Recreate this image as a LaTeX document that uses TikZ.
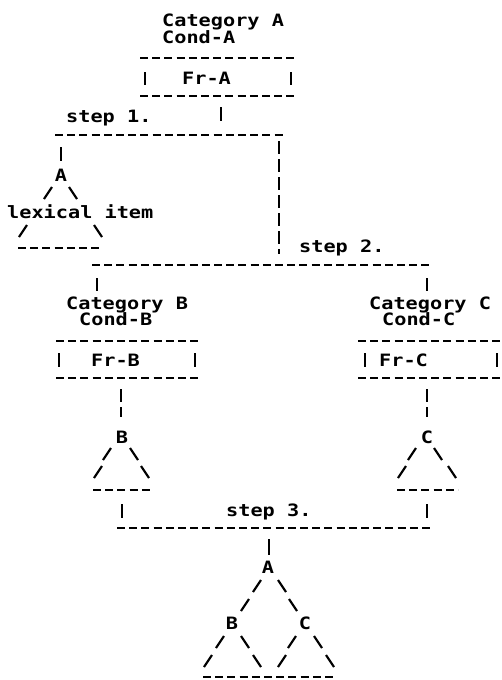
\documentclass[tikz,border=0pt]{standalone}
\usepackage{fontspec}
\newfontfamily\dm[FakeStretch=1.19]{DejaVu Sans Mono}
\tikzset{
  txt/.style={font=\dm\bfseries\fontsize{17}{17}\selectfont, inner sep=0pt, anchor=base west},
  ltr/.style={font=\dm\bfseries\fontsize{17}{17}\selectfont, inner sep=0pt, anchor=base},
  dl/.style={line width=2.4pt, dash pattern=on 8pt off 4.2pt},
  vdl/.style={line width=2pt, dash pattern=on 13pt off 5pt},
  barline/.style={line width=2pt},
  sl/.style={line width=2.2pt},
}
\newcommand{\myfs}[3]{\draw[sl] (#1-4,#2+6) -- (#1+4,#2-6) coordinate (#3);}
\newcommand{\mybs}[3]{\draw[sl] (#1-4,#2-6) -- (#1+4,#2+6) coordinate (#3);}
\begin{document}
\begin{tikzpicture}[x=1pt,y=-1pt]
\useasboundingbox[fill=white] (0,0) rectangle (502,680);

% ---------- block A ----------
\node[txt] (catA) at (162,27) {Category A};
\node[txt] (condA) at (162,43) {Cond-A};
\coordinate (aT1) at (140,58); \coordinate (aT2) at (295,58);
\draw[dl] (aT1) -- (aT2);
\node[txt] (frA) at (182,84) {Fr-A};
\coordinate (aL1) at (145,72); \coordinate (aL2) at (145,85);
\coordinate (aR1) at (291,72); \coordinate (aR2) at (291,85);
\draw[barline] (aL1) -- (aL2);
\draw[barline] (aR1) -- (aR2);
\coordinate (aB1) at (140,96); \coordinate (aB2) at (295,96);
\draw[dl] (aB1) -- (aB2);

% ---------- step 1 ----------
\node[txt] (s1) at (66,122) {step 1.};
\coordinate (s1b1) at (221,107); \coordinate (s1b2) at (221,121);
\draw[barline] (s1b1) -- (s1b2);
\coordinate (l1a) at (55,135); \coordinate (l1b) at (284,135);
\draw[dl] (l1a) -- (l1b);
\coordinate (lb1) at (61,147); \coordinate (lb2) at (61,161);
\draw[barline] (lb1) -- (lb2);

% lexical tree
\node[ltr] (lexA) at (61,181) {A};
\myfs{48}{193}{f1}
\mybs{73}{193}{b1}
\node[txt] (lex) at (7,218) {lexical item};
\myfs{23}{231}{f2}
\mybs{98}{231}{b2}
\coordinate (lbase1) at (18,248); \coordinate (lbase2) at (102,248);
\draw[dl] (lbase1) -- (lbase2);

% right vertical to step 2
\coordinate (rv1) at (279,141); \coordinate (rv2) at (279,254);
\draw[vdl] (rv1) -- (rv2);
\node[txt] (s2) at (299,252) {step 2.};
\coordinate (l2a) at (92,265); \coordinate (l2b) at (431,265);
\draw[dl] (l2a) -- (l2b);
\coordinate (bb1) at (97,278); \coordinate (bb2) at (97,291);
\coordinate (cb1) at (427,278); \coordinate (cb2) at (427,291);
\draw[barline] (bb1) -- (bb2);
\draw[barline] (cb1) -- (cb2);

% ---------- block B ----------
\node[txt] (catB) at (66,309) {Category B};
\node[txt] (condB) at (79,325) {Cond-B};
\coordinate (bT1) at (56,341); \coordinate (bT2) at (198,341);
\draw[dl] (bT1) -- (bT2);
\node[txt] (frB) at (91,366) {Fr-B};
\coordinate (bL1) at (59,353); \coordinate (bL2) at (59,367);
\coordinate (bR1) at (195,353); \coordinate (bR2) at (195,367);
\draw[barline] (bL1) -- (bL2);
\draw[barline] (bR1) -- (bR2);
\coordinate (bB1) at (56,378); \coordinate (bB2) at (198,378);
\draw[dl] (bB1) -- (bB2);

% ---------- block C ----------
\node[txt] (catC) at (369,309) {Category C};
\node[txt] (condC) at (382,325) {Cond-C};
\coordinate (cT1) at (358,341); \coordinate (cT2) at (502,341);
\draw[dl] (cT1) -- (cT2);
\node[txt] (frC) at (379,366) {Fr-C};
\coordinate (cL1) at (365,353); \coordinate (cL2) at (365,367);
\coordinate (cR1) at (497,353); \coordinate (cR2) at (497,367);
\draw[barline] (cL1) -- (cL2);
\draw[barline] (cR1) -- (cR2);
\coordinate (cB1) at (358,378); \coordinate (cB2) at (502,378);
\draw[dl] (cB1) -- (cB2);

% bars down to B and C trees
\coordinate (bd1) at (121,389); \coordinate (bd2) at (121,417);
\coordinate (cd1) at (427,389); \coordinate (cd2) at (427,417);
\draw[vdl] (bd1) -- (bd2);
\draw[vdl] (cd1) -- (cd2);

% B tree
\node[ltr] (trB) at (122,443) {B};
\myfs{107}{454}{bf1}
\mybs{134}{454}{bb1s}
\myfs{98}{472}{bf2}
\mybs{145}{472}{bb2s}
\coordinate (bbase1) at (93,490); \coordinate (bbase2) at (153,490);
\draw[dl] (bbase1) -- (bbase2);

% C tree
\node[ltr] (trC) at (427,443) {C};
\myfs{412}{454}{cf1}
\mybs{438}{454}{cb1s}
\myfs{402}{472}{cf2}
\mybs{452}{472}{cb2s}
\coordinate (cbase1) at (397,490); \coordinate (cbase2) at (458,490);
\draw[dl] (cbase1) -- (cbase2);

% ---------- step 3 ----------
\coordinate (b3a) at (122,504); \coordinate (b3b) at (122,518);
\coordinate (c3a) at (427,504); \coordinate (c3b) at (427,518);
\draw[barline] (b3a) -- (b3b);
\draw[barline] (c3a) -- (c3b);
\node[txt] (s3) at (226,516) {step 3.};
\coordinate (l3a) at (117,528); \coordinate (l3b) at (431,528);
\draw[dl] (l3a) -- (l3b);
\coordinate (ab1) at (269,539); \coordinate (ab2) at (269,555);
\draw[barline] (ab1) -- (ab2);

% final tree
\node[ltr] (fA) at (268,573) {A};
\myfs{257}{586}{ff1}
\mybs{282}{586}{fb1}
\myfs{245}{605}{ff2}
\mybs{293}{605}{fb2}
\node[ltr] (fB) at (232,629) {B};
\node[ltr] (fC) at (305,629) {C};
\myfs{220}{642}{g1}
\mybs{245}{642}{g2}
\myfs{292}{642}{g3}
\mybs{318}{642}{g4}
\myfs{208}{661}{h1}
\mybs{257}{661}{h2}
\myfs{282}{661}{h3}
\mybs{330}{661}{h4}
\coordinate (fbase1) at (203,677); \coordinate (fbase2) at (336,677);
\draw[dl] (fbase1) -- (fbase2);
\end{tikzpicture}
\end{document}
